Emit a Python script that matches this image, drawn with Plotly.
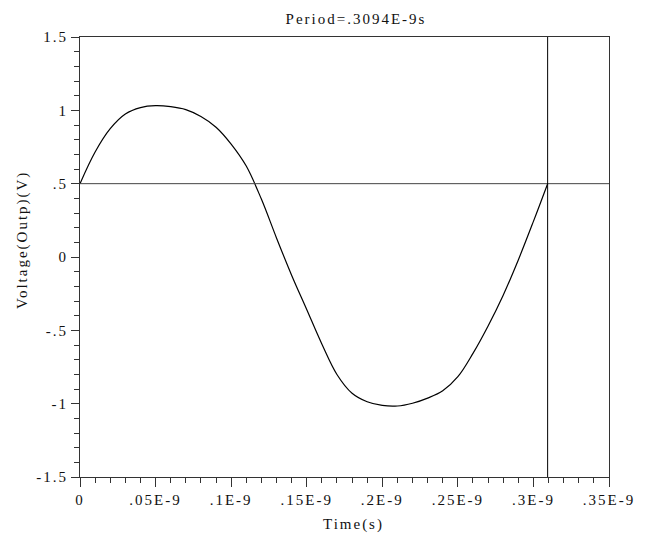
import plotly.graph_objects as go

# Transient waveform (time in units of 1E-9 s, voltage in V)
time_ns = [0, 0.01, 0.02, 0.03, 0.04, 0.05, 0.06, 0.07, 0.08, 0.09, 0.10,
           0.11, 0.12, 0.13, 0.14, 0.15, 0.16, 0.17, 0.18, 0.19, 0.20, 0.21, 0.22,
           0.23, 0.24, 0.25, 0.26, 0.27, 0.28, 0.29, 0.30, 0.3094]
voltage = [0.50, 0.716, 0.875, 0.975, 1.019, 1.032, 1.025, 1.005, 0.958, 0.885, 0.77,
           0.62, 0.395, 0.13, -0.124, -0.358, -0.593, -0.801, -0.929, -0.987, -1.012, -1.016, -0.997,
           -0.962, -0.912, -0.816, -0.657, -0.47, -0.26, -0.02, 0.243, 0.50]

period = 0.3094e-9
threshold = 0.5

x_tickvals_ns = [0, 0.05, 0.10, 0.15, 0.20, 0.25, 0.30, 0.35]
x_ticktext = ["0", ".05E-9", ".1E-9", ".15E-9", ".2E-9", ".25E-9", ".3E-9", ".35E-9"]
y_tickvals = [-1.5, -1, -0.5, 0, 0.5, 1, 1.5]
y_ticktext = ["-1.5", "-1", "-.5", "0", ".5", "1", "1.5"]

title_text = "Period=.3094E-9s"
x_title = "Time(s)"
y_title = "Voltage(Outp)(V)"

FONT = "Liberation Serif"
fs = 15
TXT = "#111"


def sp(s):
    return '<span style="letter-spacing:2px">' + s + '</span>'


t_s = [t * 1e-9 for t in time_ns]

fig = go.Figure()
fig.add_trace(go.Scatter(x=t_s, y=voltage, mode="lines",
                         line=dict(color="black", width=1.2, shape="spline", smoothing=1.0),
                         showlegend=False, hoverinfo="skip"))

# threshold line and period marker
fig.add_shape(type="line", xref="paper", yref="y", x0=0, x1=1, y0=threshold, y1=threshold,
              line=dict(color="#444", width=1))
fig.add_shape(type="line", xref="x", yref="paper", x0=period, x1=period, y0=0, y1=1,
              line=dict(color="black", width=1))

# page body has an 8px margin, so the figure is sized / offset to compensate
W, H = 649, 526
L, R, T, B = 72, 48, 29, 57
PW = W - L - R
PH = H - T - B

fig.update_layout(
    width=W, height=H,
    margin=dict(l=L, r=R, t=T, b=B),
    paper_bgcolor="white", plot_bgcolor="white",
    font=dict(family=FONT, size=fs, color=TXT),
    title=dict(text=sp(title_text), x=(348 - L) / PW, xref="paper", xanchor="center",
               y=1 - 11 / H, yanchor="middle", font=dict(family=FONT, size=fs, color=TXT)),
)
fig.add_annotation(text=sp(x_title), xref="paper", yref="paper", x=0.5, y=0,
                   xshift=9, yshift=-47, xanchor="center", yanchor="middle",
                   showarrow=False, font=dict(family=FONT, size=fs, color=TXT))
fig.add_annotation(text=sp(y_title), xref="paper", yref="paper", x=0, y=1 - (232 - T) / PH,
                   xshift=-58, xanchor="center", yanchor="middle", textangle=-90,
                   showarrow=False, font=dict(family=FONT, size=fs, color=TXT))

fig.update_xaxes(
    range=[0, 0.35e-9], showgrid=False, zeroline=False, automargin=False,
    showline=True, linecolor="#333", linewidth=1, mirror=True,
    tickmode="array", tickvals=[v * 1e-9 for v in x_tickvals_ns],
    ticktext=[sp(t) for t in x_ticktext],
    ticks="outside", ticklen=9, tickwidth=1, tickcolor="#333",
    minor=dict(dtick=0.01e-9, ticks="outside", ticklen=5, tickwidth=1, tickcolor="#333", showgrid=False),
    tickfont=dict(family=FONT, size=fs, color=TXT),
)
fig.update_yaxes(
    range=[-1.5, 1.5], showgrid=False, zeroline=False, automargin=False,
    showline=True, linecolor="#333", linewidth=1, mirror=True,
    tickmode="array", tickvals=y_tickvals, ticktext=[sp(t) for t in y_ticktext],
    ticks="outside", ticklen=8, tickwidth=1, tickcolor="#333",
    minor=dict(dtick=0.1, ticks="outside", ticklen=5, tickwidth=1, tickcolor="#333", showgrid=False),
    tickfont=dict(family=FONT, size=fs, color=TXT),
)

fig.write_html("out.html")
